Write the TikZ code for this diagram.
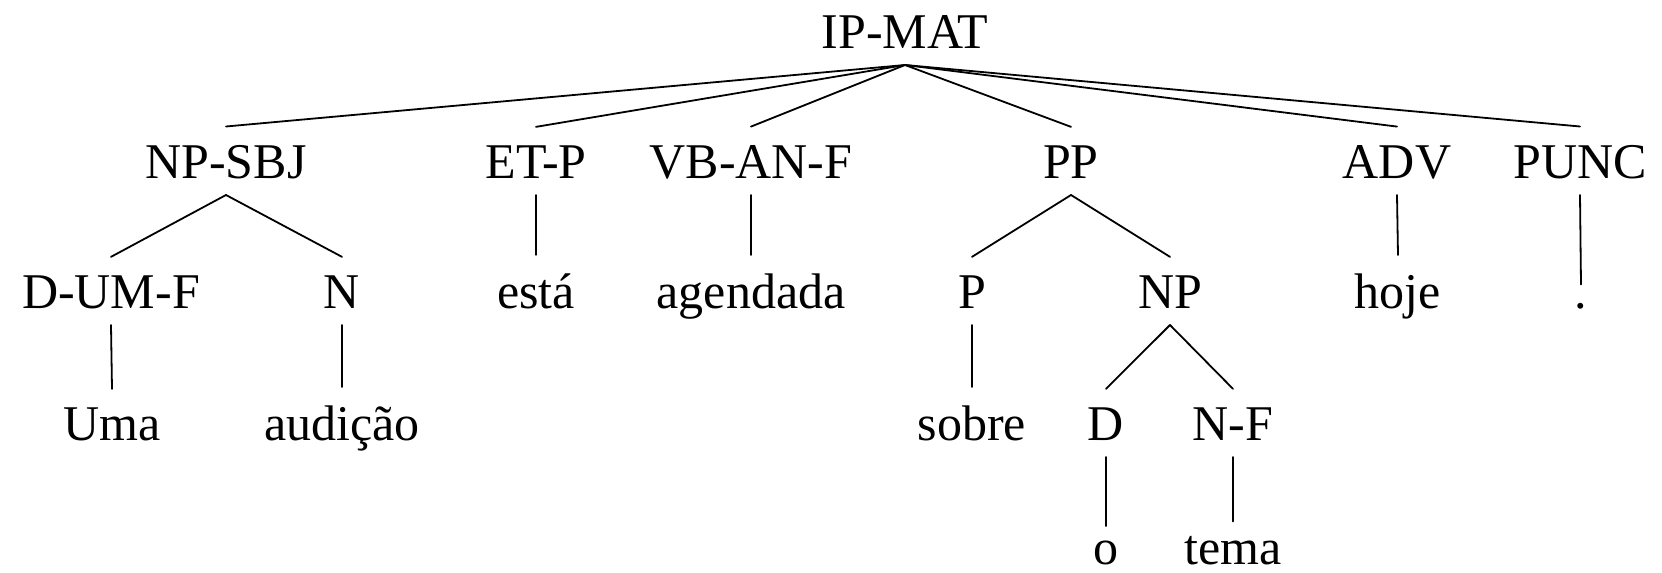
\documentclass[tikz,border=0pt]{standalone}
\usepackage{fontspec}
\setmainfont{Liberation Serif}
\begin{document}
\begin{tikzpicture}[x=0.5pt,y=-0.5pt,
  lbl/.style={inner sep=0pt, anchor=base, font=\fontsize{25}{30}\selectfont},
  edge/.style={line width=0.9pt, line cap=round}]
\useasboundingbox (0,0) rectangle (1662,573);
% level 0
\node[lbl] (ip) at (905,48) {IP-MAT};
% level 1
\node[lbl] (npsbj) at (226,178) {NP-SBJ};
\node[lbl] (etp) at (536,178) {ET-P};
\node[lbl] (vb) at (751,178) {VB-AN-F};
\node[lbl] (pp) at (1071,178) {PP};
\node[lbl] (adv) at (1397,178) {ADV};
\node[lbl] (punc) at (1580,178) {PUNC};
% level 2
\node[lbl] (dumf) at (111,308) {D-UM-F};
\node[lbl] (n1) at (342,308) {N};
\node[lbl] (esta) at (536,308) {está};
\node[lbl] (agend) at (751,308) {agendada};
\node[lbl] (p) at (972,308) {P};
\node[lbl] (np) at (1170,308) {NP};
\node[lbl] (hoje) at (1398,308) {hoje};
\node[lbl] (dot) at (1581,308) {.};
% level 3
\node[lbl] (uma) at (112,440) {Uma};
\node[lbl] (aud) at (342,440) {audição};
\node[lbl] (sobre) at (972,440) {sobre};
\node[lbl] (d) at (1106,440) {D};
\node[lbl] (nf) at (1233,440) {N-F};
% level 4
\node[lbl] (o) at (1106,564) {o};
\node[lbl] (tema) at (1233,564) {tema};
% edges
\foreach \a/\b in {ip/npsbj, ip/etp, ip/vb, ip/pp, ip/adv, ip/punc,
  npsbj/dumf, npsbj/n1, etp/esta, vb/agend, pp/p, pp/np, adv/hoje, punc/dot,
  dumf/uma, n1/aud, p/sobre, np/d, np/nf}
  \draw[edge] ([yshift=-8.5pt]\a.base) -- ([yshift=9pt]\b.north);
\foreach \a/\b in {d/o, nf/tema}
  \draw[edge] ([yshift=-8.5pt]\a.base) -- ([yshift=7pt]\b.north);
\end{tikzpicture}
\end{document}
